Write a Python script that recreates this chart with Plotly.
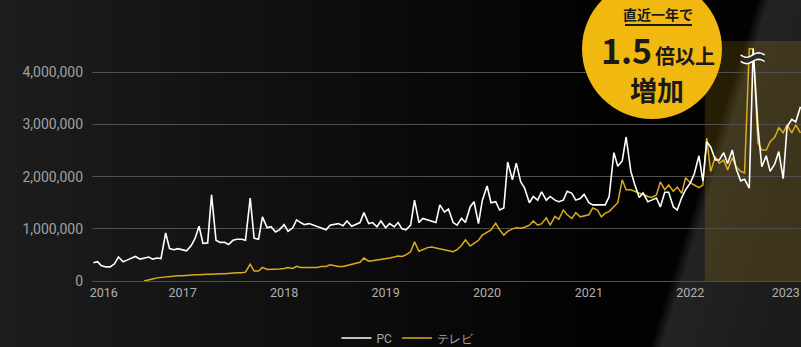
import base64
import struct
import zlib

import numpy as np
import pandas as pd
import plotly.graph_objects as go

# ---- data (semi-monthly, values in millions) ----
pc_millions = [
    0.35, 0.37, 0.29, 0.27, 0.27, 0.33, 0.46, 0.37, 0.40, 0.43, 0.47, 0.42,
    0.44, 0.46, 0.42, 0.44, 0.43, 0.92, 0.62, 0.60, 0.62, 0.60, 0.58, 0.68,
    0.82, 1.05, 0.72, 0.73, 1.65, 0.78, 0.74, 0.74, 0.70, 0.78, 0.80, 0.80,
    0.78, 1.59, 0.82, 0.80, 1.23, 1.02, 1.04, 0.94, 0.98, 1.08, 0.95, 1.02,
    1.17, 1.12, 1.08, 1.10, 1.07, 1.05, 1.02, 0.98, 1.07, 1.08, 1.10, 1.06,
    1.15, 1.05, 1.09, 1.12, 1.31, 1.10, 1.12, 1.04, 1.15, 1.02, 1.10, 1.04,
    1.12, 1.00, 0.98, 1.07, 1.55, 1.12, 1.20, 1.17, 1.15, 1.12, 1.46, 1.32,
    1.38, 1.12, 1.07, 1.20, 1.12, 1.42, 1.52, 1.10, 1.55, 1.82, 1.50, 1.52,
    1.36, 1.40, 2.28, 1.94, 2.26, 1.90, 1.78, 1.50, 1.62, 1.55, 1.71, 1.55,
    1.62, 1.55, 1.52, 1.55, 1.72, 1.68, 1.55, 1.58, 1.66, 1.50, 1.46, 1.46,
    1.46, 1.46, 1.62, 2.46, 2.20, 2.30, 2.76, 2.10, 1.85, 1.60, 1.69, 1.52,
    1.55, 1.59, 1.42, 1.70, 1.70, 1.42, 1.36, 1.60, 1.75, 1.88, 2.05, 2.40,
    1.92, 2.67, 2.57, 2.32, 2.32, 2.46, 2.25, 2.51, 2.15, 1.92, 1.95, 1.78,
    4.45, 2.95, 2.19, 2.40, 2.10, 2.25, 2.48, 1.96, 2.96, 3.10, 3.05, 3.34,
]

tv_millions = [None] * 12 + [
    0.00, 0.03, 0.04, 0.06, 0.07, 0.08, 0.09, 0.09, 0.10, 0.10, 0.11, 0.12,
    0.12, 0.12, 0.13, 0.13, 0.13, 0.14, 0.14, 0.14, 0.15, 0.15, 0.16, 0.16,
    0.17, 0.32, 0.19, 0.19, 0.26, 0.22, 0.22, 0.22, 0.23, 0.24, 0.26, 0.24,
    0.28, 0.26, 0.26, 0.26, 0.27, 0.26, 0.28, 0.28, 0.31, 0.29, 0.28, 0.28,
    0.30, 0.31, 0.33, 0.36, 0.44, 0.38, 0.39, 0.40, 0.41, 0.42, 0.44, 0.46,
    0.48, 0.47, 0.50, 0.56, 0.75, 0.57, 0.60, 0.64, 0.65, 0.63, 0.62, 0.60,
    0.57, 0.56, 0.60, 0.68, 0.79, 0.67, 0.72, 0.78, 0.88, 0.93, 0.98, 1.11,
    0.98, 0.88, 0.95, 1.00, 1.02, 1.01, 1.03, 1.07, 1.15, 1.07, 1.10, 1.21,
    1.07, 1.24, 1.18, 1.36, 1.27, 1.20, 1.31, 1.23, 1.25, 1.27, 1.40, 1.36,
    1.23, 1.30, 1.33, 1.42, 1.50, 1.94, 1.75, 1.75, 1.72, 1.69, 1.65, 1.62,
    1.60, 1.65, 1.90, 1.75, 1.84, 1.72, 1.80, 1.68, 1.98, 1.88, 1.84, 1.79,
    1.84, 2.74, 2.10, 2.38, 2.26, 2.32, 2.13, 2.36, 2.19, 2.10, 2.07, 4.45,
    4.45, 2.65, 2.51, 2.51, 2.67, 2.76, 2.94, 2.84, 2.99, 2.84, 2.99, 2.84,
]

series_names = ["PC", "テレビ"]
year_labels = ["2016", "2017", "2018", "2019", "2020", "2021", "2022", "2023"]
year_ticks = ["2016-03-23", "2017-01-01", "2018-01-01", "2019-01-01",
              "2020-01-01", "2021-01-01", "2022-01-01", "2022-12-10"]
y_ticks = [0, 1_000_000, 2_000_000, 3_000_000, 4_000_000]
highlight_start = "2022-02-22"
break_date = "2022-08-13"
break_value = 4_270_000

dates = pd.date_range("2016-02-15", periods=len(pc_millions), freq="SMS")
pc = [v * 1e6 for v in pc_millions]
tv = [None if v is None else v * 1e6 for v in tv_millions]

# ---- geometry ----
W, H = 801, 347
ML, MR, MT, MB = 92, 0, 41, 66
PW, PH = W - ML - MR, H - MT - MB


def px(x):
    return (x - ML) / PW


def py(y):
    return (H - MB - y) / PH


# ---- dark background with a soft diagonal light wedge ----
def png_uri(arr):
    h, w, _ = arr.shape
    raw = b"".join(b"\x00" + arr[r].tobytes() for r in range(h))

    def chunk(tag, data):
        c = struct.pack(">I", len(data)) + tag + data
        return c + struct.pack(">I", zlib.crc32(tag + data) & 0xFFFFFFFF)

    png = (b"\x89PNG\r\n\x1a\n"
           + chunk(b"IHDR", struct.pack(">IIBBBBB", w, h, 8, 2, 0, 0, 0))
           + chunk(b"IDAT", zlib.compress(raw, 9))
           + chunk(b"IEND", b""))
    return "data:image/png;base64," + base64.b64encode(png).decode()


gx, gy = np.meshgrid(np.arange(W, dtype=float), np.arange(H, dtype=float))
base = 30 - 28 * np.clip(gx / 620, 0, 1) ** 0.9
edge = 670 + (280 - gy) * 0.31
s = np.clip((gx - edge) / 12, 0, 1)
wedge = 36 - 8 * np.clip((gx - edge) / 120, 0, 1)
gray = base * (1 - s) + wedge * s
bg = np.clip(np.stack([gray, gray, gray], axis=-1), 0, 255).astype(np.uint8)

fig = go.Figure()

fig.add_trace(go.Scatter(
    x=dates, y=tv, mode="lines", name=series_names[1],
    line=dict(color="#dcaa1e", width=1.5), hoverinfo="skip",
))
fig.add_trace(go.Scatter(
    x=dates, y=pc, mode="lines", name=series_names[0],
    line=dict(color="#ffffff", width=1.6), hoverinfo="skip",
))

# highlighted last-year band
fig.add_shape(type="rect", xref="x", yref="paper",
              x0=highlight_start, x1=dates[-1] + pd.Timedelta(days=5),
              y0=0, y1=1, line_width=0,
              fillcolor="rgba(215,170,20,0.17)", layer="below")

# axis break mark over the clipped spike
t = np.linspace(-12, 12, 13)
wave = 2.2 * np.sin(np.pi * t / 12)


def pts(yoff):
    return [(float(a), float(b + yoff)) for a, b in zip(t, wave)]


up, lo = pts(3.2), pts(-3.2)
band = "M " + " L ".join(f"{a},{b}" for a, b in up) + " L " + \
       " L ".join(f"{a},{b}" for a, b in reversed(lo)) + " Z"
fig.add_shape(type="path", path=band, xref="x", yref="y",
              xsizemode="pixel", ysizemode="pixel",
              xanchor=break_date, yanchor=break_value,
              fillcolor="#2c2a22", line_width=0, layer="above")
for p in (up, lo):
    fig.add_shape(type="path",
                  path="M " + " L ".join(f"{a},{b}" for a, b in p),
                  xref="x", yref="y", xsizemode="pixel", ysizemode="pixel",
                  xanchor=break_date, yanchor=break_value,
                  line=dict(color="#ffffff", width=1.5), layer="above")

# gold badge
R0 = 70
fig.add_shape(type="circle", xref="paper", yref="paper",
              xsizemode="pixel", ysizemode="pixel",
              xanchor=px(652), yanchor=py(49),
              x0=-R0, x1=R0, y0=-R0, y1=R0,
              fillcolor="#f1b90f", line_width=0, layer="above")
fig.add_shape(type="line", xref="paper", yref="paper",
              x0=px(625), x1=px(692), y0=py(25), y1=py(25),
              line=dict(color="#1a1a1a", width=2), layer="above")

cjk = "Noto Sans CJK JP"
badge_text = [
    ("直近一年で", 658, 14, 14),
    ("1.5", 626, 50, 34),
    ("倍以上", 685, 55, 20),
    ("増加", 657, 89.5, 27),
]
for txt, bx, by, size in badge_text:
    fig.add_annotation(text=f"<b>{txt}</b>", xref="paper", yref="paper",
                       x=px(bx), y=py(by), xanchor="center", yanchor="middle",
                       showarrow=False,
                       font=dict(family=cjk, size=size, color="#1a1a1a"))

fig.add_layout_image(dict(
    source=png_uri(bg), xref="paper", yref="paper",
    x=-ML / PW, y=1 + MT / PH, sizex=W / PW, sizey=H / PH,
    xanchor="left", yanchor="top", sizing="stretch", layer="below",
))

fig.update_layout(
    width=W, height=H,
    margin=dict(l=ML, r=MR, t=MT, b=MB, autoexpand=False),
    paper_bgcolor="#000000", plot_bgcolor="rgba(0,0,0,0)",
    showlegend=True,
    legend=dict(orientation="h", x=px(408), xanchor="center",
                y=py(338), yanchor="middle", traceorder="reversed",
                font=dict(family="Roboto", size=12, color="#a8a8a8"),
                bgcolor="rgba(0,0,0,0)"),
    xaxis=dict(type="date", range=["2016-02-10", "2023-02-03"],
               tickmode="array", tickvals=year_ticks, ticktext=year_labels,
               ticklabeloverflow="allow",
               showgrid=False, zeroline=False,
               showline=True, linecolor="#505050", linewidth=1,
               ticks="", tickfont=dict(family="Roboto", size=12.5, color="#b0b0b0")),
    yaxis=dict(range=[0, 4_600_000], tickmode="array", tickvals=y_ticks,
               tickformat=",", showgrid=True, gridcolor="#505050", gridwidth=1,
               zeroline=False, showline=False, ticks="",
               ticklabelstandoff=8,
               tickfont=dict(family="Roboto", size=14, color="#a0a0a0")),
)

fig.write_html("out.html")
